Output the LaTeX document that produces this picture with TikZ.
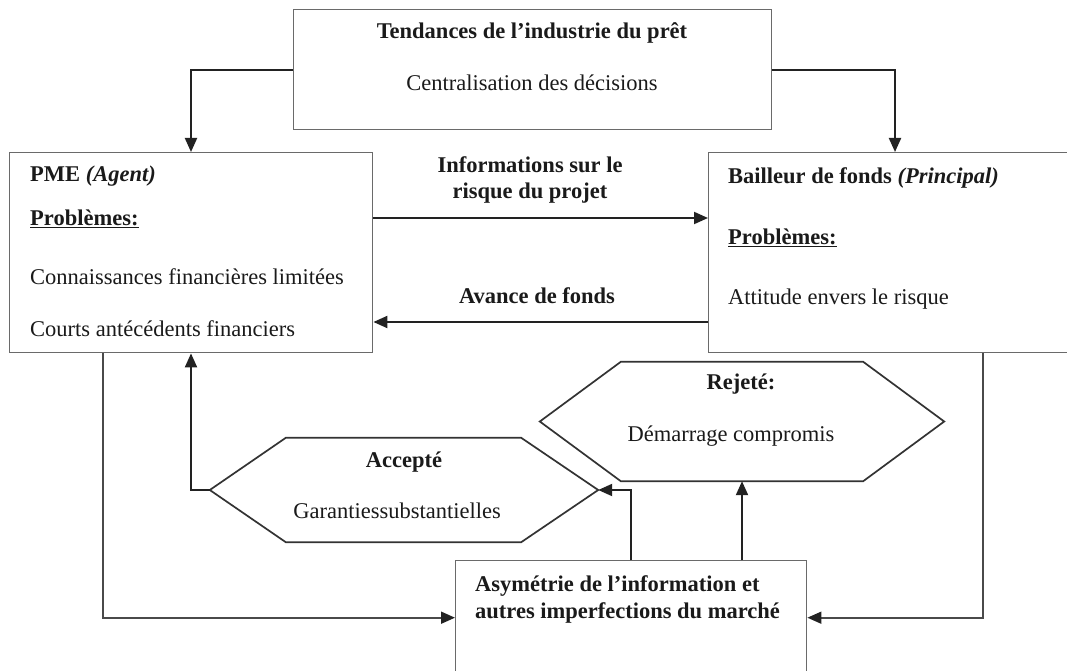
\documentclass[tikz,border=0pt]{standalone}
\usepackage{fontspec}
\setmainfont{Liberation Serif}
\usetikzlibrary{arrows.meta,calc}
\definecolor{boxgray}{HTML}{6A6A6A}
\definecolor{linegray}{HTML}{4A4A4A}
\definecolor{arrowblack}{HTML}{222222}
\definecolor{hexgray}{HTML}{333333}
\definecolor{textcol}{HTML}{1A1A1A}
\begin{document}
\begin{tikzpicture}[x=1pt,y=-1pt,
  box/.style={draw=boxgray, line width=1.4pt, inner sep=0pt, anchor=north west},
  hexnode/.style={inner sep=0pt},
  hexline/.style={draw=hexgray, line width=1.7pt, line join=miter},
  conn/.style={draw=arrowblack, line width=2pt, -{Triangle[length=14pt,width=12pt]}},
  connthin/.style={draw=linegray, line width=1.6pt, -{Triangle[length=14pt,width=12pt,color=arrowblack]}},
  txt/.style={inner sep=0pt, text height=16pt, text depth=4pt, text=textcol,
    font=\fontsize{22.5}{25}\selectfont},
  btxt/.style={txt, font=\fontsize{22.5}{25}\selectfont\bfseries}
]
\clip (0,0) rectangle (1067,671);
\fill[white] (0,0) rectangle (1067,671);

% boxes
\node[box, minimum width=478pt, minimum height=120pt] (top) at (293,9) {};
\node[box, minimum width=363pt, minimum height=200pt] (pme) at (9,152) {};
\node[box, minimum width=400pt, minimum height=200pt] (bail) at (708,152) {};
\node[box, minimum width=351pt, minimum height=114pt] (asym) at (455,560) {};

% hexagons
\node[hexnode, minimum width=388pt, minimum height=104pt] (acc) at (404,490) {};
\draw[hexline] (acc.west) -- ([xshift=76pt]acc.north west) -- ([xshift=-77pt]acc.north east)
  -- (acc.east) -- ([xshift=-77pt]acc.south east) -- ([xshift=76pt]acc.south west) -- cycle;
\node[hexnode, minimum width=404pt, minimum height=119pt] (rej) at (742,421.5) {};
\draw[hexline] (rej.west) -- ([xshift=81pt]rej.north west) -- ([xshift=-81pt]rej.north east)
  -- (rej.east) -- ([xshift=-81pt]rej.south east) -- ([xshift=81pt]rej.south west) -- cycle;

% texts
\node[btxt, anchor=center] (t1) at (532,33) {Tendances de l’industrie du prêt};
\node[txt, anchor=center] (t2) at (532,85) {Centralisation des décisions};

\node[btxt, anchor=west] (p1) at (30,176) {PME \textit{(Agent)}};
\node[btxt, anchor=west] (p2) at (30,219) {\underline{Problèmes:}};
\node[txt, anchor=west] (p3) at (30,278) {Connaissances financières limitées};
\node[txt, anchor=west] (p4) at (30,330) {Courts antécédents financiers};

\node[btxt, anchor=west] (b1) at (728,177) {Bailleur de fonds \textit{(Principal)}};
\node[btxt, anchor=west] (b2) at (728,238) {\underline{Problèmes:}};
\node[txt, anchor=west] (b3) at (728,298) {Attitude envers le risque};

\node[btxt, anchor=center] (i1) at (530,167) {Informations sur le};
\node[btxt, anchor=center] (i2) at (530,192) {risque du projet};
\node[btxt, anchor=center] (av) at (537,297) {Avance de fonds};

\node[btxt, anchor=west] (a1) at (475,585) {Asymétrie de l’information et};
\node[btxt, anchor=west] (a2) at (475,612) {autres imperfections du marché};

\node[btxt, anchor=center] (ac1) at (404,461) {Accepté};
\node[txt, anchor=center] (ac2) at (397,512) {Garantiessubstantielles};
\node[btxt, anchor=center] (rj1) at (741,383) {Rejeté:};
\node[txt, anchor=center] (rj2) at (731,435) {Démarrage compromis};

% helper coordinates
\coordinate (yinfo) at (0,218);
\coordinate (yav) at (0,322);
\coordinate (xl) at (191,0);
\coordinate (xr) at (895,0);
\coordinate (xll) at (103,0);
\coordinate (xrr) at (983,0);
\coordinate (xa) at (631,0);
\coordinate (xrj) at (742,0);

% connectors
\draw[conn] (top.west) -| (xl |- pme.north);
\draw[conn] (top.east) -| (xr |- bail.north);
\draw[conn] (pme.east |- yinfo) -- (bail.west |- yinfo);
\draw[conn] (bail.west |- yav) -- (pme.east |- yav);
\draw[connthin] (xll |- pme.south) |- (asym.west);
\draw[connthin] (xrr |- bail.south) |- (asym.east);
\draw[conn] (xa |- asym.north) |- (acc.east);
\draw[conn] (xrj |- asym.north) -- (xrj |- rej.south);
\draw[conn] (acc.west) -| (xl |- pme.south);
\end{tikzpicture}
\end{document}
